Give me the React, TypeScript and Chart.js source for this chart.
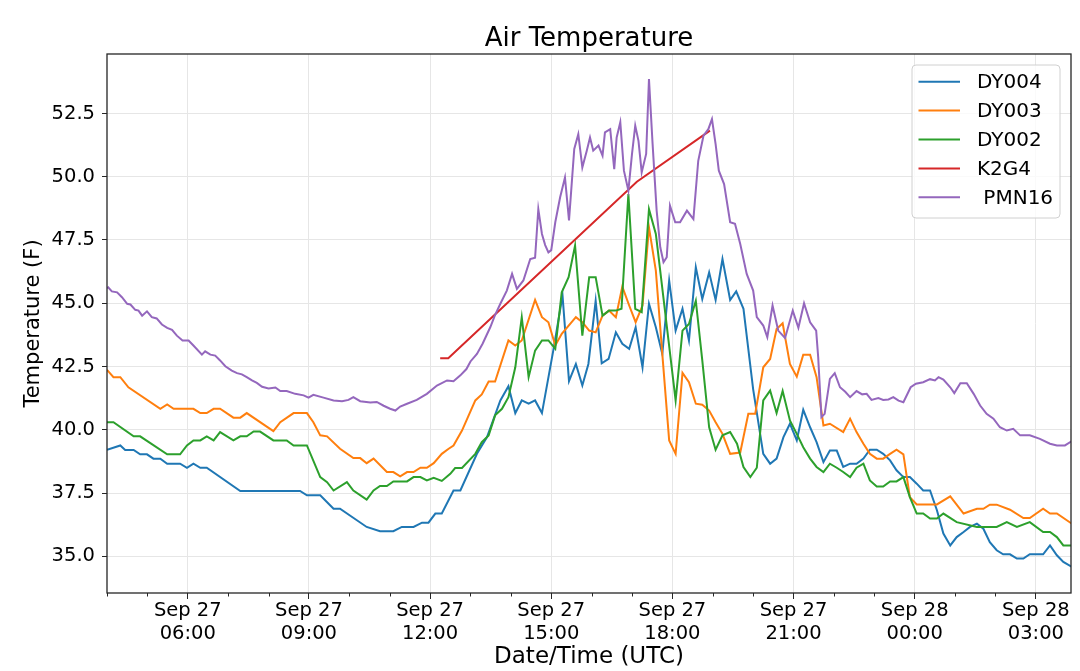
import { useEffect, useRef } from "react";
import { Chart, registerables } from "chart.js";

Chart.register(...registerables);

const FONT = "'DejaVu Sans', 'Liberation Sans', sans-serif";

const chartTitle = "Air Temperature";
const xAxisTitle = "Date/Time (UTC)";
const yAxisTitle = "Temperature (F)";

const seriesLabels = ["DY004", "DY003", "DY002", "K2G4", " PMN16"];
const seriesColors = ["#1f77b4", "#ff7f0e", "#2ca02c", "#d62728", "#9467bd"];

// hours since Sep 27 00:00 UTC
const dy004Hours = [4.0, 4.33, 4.45, 4.66, 4.82, 4.99, 5.15, 5.32, 5.49, 5.81, 5.98, 6.14, 6.31, 6.47, 7.3, 8.78, 8.95, 9.28, 9.53, 9.61, 9.77, 10.43, 10.76, 11.09, 11.3, 11.59, 11.8, 11.96, 12.13, 12.29, 12.58, 12.75, 13.16, 13.41, 13.74, 13.94, 14.11, 14.27, 14.44, 14.6, 14.77, 15.05, 15.28, 15.44, 15.61, 15.77, 15.92, 16.1, 16.25, 16.42, 16.6, 16.76, 16.93, 17.09, 17.26, 17.42, 17.59, 17.75, 17.92, 18.08, 18.25, 18.41, 18.58, 18.74, 18.91, 19.07, 19.24, 19.43, 19.58, 19.76, 20.0, 20.25, 20.42, 20.58, 20.75, 20.91, 21.08, 21.24, 21.41, 21.57, 21.74, 21.9, 22.07, 22.23, 22.4, 22.56, 22.73, 22.89, 23.06, 23.22, 23.39, 23.55, 23.72, 23.88, 24.05, 24.21, 24.38, 24.55, 24.71, 24.88, 25.04, 25.21, 25.37, 25.54, 25.7, 25.86, 26.03, 26.19, 26.36, 26.53, 26.69, 26.85, 27.18, 27.35, 27.52, 27.68, 27.89];
const dy004Temp = [39.21, 39.38, 39.2, 39.2, 39.03, 39.03, 38.86, 38.86, 38.66, 38.66, 38.5, 38.66, 38.5, 38.5, 37.58, 37.58, 37.41, 37.41, 37.01, 36.88, 36.88, 36.16, 35.99, 35.99, 36.16, 36.16, 36.33, 36.33, 36.69, 36.69, 37.6, 37.6, 39.05, 39.71, 41.16, 41.72, 40.66, 41.16, 41.03, 41.16, 40.66, 43.13, 45.3, 41.92, 42.6, 41.75, 42.6, 45.1, 42.63, 42.8, 43.85, 43.4, 43.2, 44.05, 42.47, 44.98, 44.05, 43.0, 45.9, 43.92, 44.78, 43.53, 46.42, 45.17, 46.22, 45.13, 46.75, 45.13, 45.47, 44.78, 41.6, 39.05, 38.66, 38.86, 39.71, 40.24, 39.58, 40.79, 40.1, 39.51, 38.72, 39.18, 39.18, 38.53, 38.66, 38.66, 38.86, 39.21, 39.21, 39.05, 38.79, 38.4, 38.13, 38.13, 37.87, 37.6, 37.6, 36.82, 35.9, 35.43, 35.76, 35.96, 36.16, 36.29, 36.09, 35.56, 35.24, 35.08, 35.08, 34.91, 34.91, 35.08, 35.08, 35.43, 35.04, 34.78, 34.58];

const dy003Hours = [4.0, 4.16, 4.33, 4.53, 5.32, 5.49, 5.65, 6.14, 6.31, 6.47, 6.64, 6.8, 7.13, 7.3, 7.46, 8.12, 8.29, 8.62, 8.95, 9.11, 9.28, 9.45, 9.77, 10.1, 10.27, 10.43, 10.6, 10.93, 11.09, 11.26, 11.43, 11.59, 11.76, 11.92, 12.09, 12.29, 12.46, 12.58, 12.79, 13.12, 13.28, 13.45, 13.61, 13.94, 14.11, 14.27, 14.6, 14.77, 14.93, 15.1, 15.26, 15.61, 15.77, 15.94, 16.1, 16.27, 16.43, 16.6, 16.76, 16.93, 17.09, 17.26, 17.42, 17.59, 17.75, 17.92, 18.08, 18.25, 18.41, 18.58, 18.74, 18.91, 19.07, 19.24, 19.43, 19.68, 19.88, 20.05, 20.25, 20.42, 20.58, 20.73, 20.91, 21.08, 21.24, 21.41, 21.57, 21.74, 21.9, 22.23, 22.4, 22.56, 22.73, 22.89, 23.06, 23.22, 23.39, 23.55, 23.72, 23.88, 24.05, 24.55, 24.88, 25.21, 25.54, 25.7, 25.86, 26.03, 26.36, 26.69, 26.85, 27.18, 27.35, 27.52, 27.89];
const dy003Temp = [42.37, 42.08, 42.08, 41.68, 40.83, 41.0, 40.83, 40.83, 40.66, 40.66, 40.83, 40.83, 40.48, 40.48, 40.66, 39.95, 40.3, 40.66, 40.66, 40.3, 39.78, 39.74, 39.25, 38.88, 38.88, 38.68, 38.86, 38.33, 38.33, 38.16, 38.33, 38.33, 38.5, 38.5, 38.68, 39.05, 39.25, 39.38, 39.97, 41.16, 41.4, 41.91, 41.91, 43.53, 43.33, 43.53, 45.13, 44.45, 44.25, 43.33, 43.79, 44.45, 44.25, 43.92, 43.85, 44.51, 44.71, 44.45, 45.66, 44.91, 44.25, 44.91, 48.0, 46.29, 43.0, 39.58, 39.05, 42.25, 41.88, 41.03, 40.99, 40.76, 40.3, 39.84, 39.05, 39.1, 40.63, 40.63, 42.47, 42.8, 43.98, 44.21, 42.6, 42.1, 42.97, 42.97, 42.08, 40.17, 40.24, 39.91, 40.44, 39.91, 39.45, 39.05, 38.86, 38.86, 39.05, 39.21, 39.03, 37.34, 37.05, 37.05, 37.37, 36.69, 36.88, 36.88, 37.04, 37.04, 36.84, 36.51, 36.51, 36.88, 36.69, 36.69, 36.29];

const dy002Hours = [4.0, 4.16, 4.66, 4.82, 5.49, 5.81, 5.98, 6.14, 6.31, 6.47, 6.64, 6.8, 7.13, 7.3, 7.46, 7.63, 7.79, 8.12, 8.45, 8.62, 8.95, 9.28, 9.45, 9.61, 9.94, 10.1, 10.43, 10.6, 10.76, 10.93, 11.09, 11.43, 11.59, 11.76, 11.92, 12.09, 12.29, 12.5, 12.62, 12.79, 13.12, 13.28, 13.45, 13.61, 13.78, 13.94, 14.11, 14.27, 14.44, 14.6, 14.77, 14.93, 15.1, 15.26, 15.43, 15.59, 15.77, 15.94, 16.1, 16.27, 16.43, 16.6, 16.74, 16.91, 17.08, 17.24, 17.42, 17.59, 18.08, 18.25, 18.41, 18.58, 18.74, 18.91, 19.07, 19.24, 19.43, 19.6, 19.76, 19.93, 20.09, 20.25, 20.42, 20.58, 20.73, 20.91, 21.08, 21.24, 21.41, 21.57, 21.74, 21.9, 22.07, 22.23, 22.4, 22.56, 22.73, 22.89, 23.06, 23.22, 23.39, 23.55, 23.72, 23.88, 24.05, 24.21, 24.38, 24.55, 24.71, 25.04, 25.54, 26.03, 26.28, 26.53, 26.85, 27.18, 27.35, 27.52, 27.68, 27.89];
const dy002Temp = [40.3, 40.3, 39.74, 39.74, 39.03, 39.03, 39.38, 39.58, 39.58, 39.74, 39.58, 39.91, 39.58, 39.74, 39.74, 39.93, 39.93, 39.58, 39.58, 39.38, 39.38, 38.13, 37.93, 37.6, 37.93, 37.6, 37.24, 37.6, 37.78, 37.78, 37.96, 37.96, 38.13, 38.13, 38.0, 38.1, 37.98, 38.26, 38.49, 38.49, 39.05, 39.51, 39.78, 40.57, 40.83, 41.29, 42.47, 44.45, 42.08, 43.13, 43.53, 43.53, 43.2, 45.43, 46.03, 47.28, 43.72, 46.03, 46.03, 44.51, 44.71, 44.71, 44.78, 49.32, 44.78, 44.65, 48.72, 47.74, 41.16, 43.92, 44.18, 45.1, 42.74, 40.1, 39.21, 39.78, 39.91, 39.45, 38.53, 38.13, 38.5, 41.16, 41.55, 40.66, 41.53, 40.37, 39.84, 39.31, 38.86, 38.53, 38.33, 38.66, 38.5, 38.33, 38.13, 38.5, 38.66, 38.0, 37.76, 37.76, 37.96, 37.96, 38.13, 37.34, 36.69, 36.69, 36.49, 36.49, 36.69, 36.35, 36.16, 36.16, 36.35, 36.16, 36.35, 35.96, 35.96, 35.76, 35.43, 35.43];

const k2g4Hours = [12.25, 12.45, 17.12, 18.93];
const k2g4Temp = [42.83, 42.83, 49.8, 51.82];

const pmn16Hours = [4.0, 4.03, 4.12, 4.25, 4.37, 4.5, 4.58, 4.7, 4.78, 4.87, 4.99, 5.11, 5.23, 5.36, 5.49, 5.61, 5.73, 5.87, 6.02, 6.14, 6.35, 6.43, 6.56, 6.68, 6.8, 6.93, 7.09, 7.22, 7.34, 7.46, 7.59, 7.71, 7.84, 8.0, 8.17, 8.29, 8.45, 8.66, 8.87, 8.99, 9.11, 9.36, 9.61, 9.82, 9.98, 10.1, 10.27, 10.52, 10.68, 10.85, 11.01, 11.14, 11.26, 11.43, 11.67, 11.92, 12.17, 12.42, 12.58, 12.75, 12.9, 13.0, 13.16, 13.3, 13.49, 13.6, 13.74, 13.9, 14.03, 14.15, 14.31, 14.48, 14.6, 14.68, 14.77, 14.85, 14.93, 15.0, 15.1, 15.22, 15.34, 15.44, 15.57, 15.67, 15.77, 15.88, 15.96, 16.04, 16.17, 16.27, 16.33, 16.46, 16.56, 16.62, 16.71, 16.8, 16.91, 17.0, 17.08, 17.16, 17.24, 17.35, 17.42, 17.51, 17.61, 17.7, 17.78, 17.86, 17.94, 18.07, 18.19, 18.36, 18.52, 18.64, 18.77, 18.89, 18.98, 19.07, 19.15, 19.28, 19.43, 19.55, 19.68, 19.84, 20.0, 20.09, 20.25, 20.35, 20.48, 20.62, 20.79, 20.98, 21.12, 21.26, 21.41, 21.56, 21.61, 21.69, 21.77, 21.9, 22.02, 22.15, 22.28, 22.4, 22.56, 22.7, 22.81, 22.93, 23.1, 23.22, 23.35, 23.47, 23.6, 23.72, 23.9, 24.03, 24.21, 24.38, 24.5, 24.59, 24.71, 24.88, 24.98, 25.13, 25.29, 25.46, 25.62, 25.78, 25.95, 26.11, 26.28, 26.44, 26.61, 26.85, 27.1, 27.35, 27.52, 27.72, 27.89];
const pmn16Temp = [45.6, 45.63, 45.47, 45.43, 45.24, 44.98, 44.95, 44.74, 44.71, 44.51, 44.68, 44.45, 44.4, 44.16, 44.03, 43.95, 43.72, 43.53, 43.53, 43.33, 42.97, 43.1, 42.97, 42.93, 42.74, 42.51, 42.34, 42.24, 42.19, 42.08, 41.95, 41.85, 41.7, 41.63, 41.67, 41.53, 41.53, 41.42, 41.36, 41.27, 41.38, 41.27, 41.16, 41.13, 41.18, 41.29, 41.13, 41.08, 41.1, 40.95, 40.83, 40.76, 40.92, 41.03, 41.18, 41.42, 41.75, 41.95, 41.92, 42.15, 42.4, 42.7, 43.0, 43.4, 44.05, 44.5, 44.98, 45.5, 46.16, 45.57, 45.9, 46.75, 46.8, 48.72, 47.74, 47.3, 47.01, 47.1, 48.2, 49.19, 49.97, 48.27, 51.1, 51.68, 50.37, 51.03, 51.55, 51.03, 51.23, 50.83, 51.75, 51.88, 50.3, 51.55, 52.15, 50.24, 49.45, 50.9, 52.02, 51.42, 50.17, 50.9, 53.86, 51.29, 48.66, 47.21, 46.62, 46.82, 48.86, 48.2, 48.2, 48.66, 48.33, 50.63, 51.62, 51.88, 52.28, 51.29, 50.24, 49.71, 48.2, 48.14, 47.34, 46.16, 45.5, 44.45, 44.12, 43.66, 44.91, 43.92, 43.63, 44.71, 44.03, 45.0, 44.25, 43.92, 42.87, 40.5, 40.63, 42.01, 42.24, 41.68, 41.5, 41.29, 41.53, 41.4, 41.42, 41.18, 41.25, 41.18, 41.2, 41.29, 41.15, 41.09, 41.68, 41.82, 41.88, 42.0, 41.95, 42.08, 41.98, 41.68, 41.45, 41.84, 41.84, 41.42, 40.96, 40.63, 40.44, 40.1, 39.97, 40.04, 39.78, 39.78, 39.64, 39.45, 39.38, 39.38, 39.55];

const yTickValues = [35, 37.5, 40, 42.5, 45, 47.5, 50, 52.5];
const xTickHours = [4, 5, 6, 7, 8, 9, 10, 11, 12, 13, 14, 15, 16, 17, 18, 19, 20, 21, 22, 23, 24, 25, 26, 27];
const xMajorEvery = 3;

const X_MIN = 4.0;
const X_MAX = 27.87;
const Y_MIN = 33.55;
const Y_MAX = 54.85;

function xTickLabel(h: number): string[] {
  const day = h < 24 ? "Sep 27" : "Sep 28";
  const hh = String(h % 24).padStart(2, "0");
  return [day, hh + ":00"];
}

function toPoints(xs: number[], ys: number[]) {
  return xs.map((x, i) => ({ x, y: ys[i] }));
}

const decorPlugin = {
  id: "decor",
  afterDraw(chart: any) {
    const { ctx, chartArea: a, scales } = chart;
    const xs = scales.x;
    ctx.save();
    // minor ticks
    ctx.strokeStyle = "#262626";
    ctx.lineWidth = 1;
    for (const h of xTickHours) {
      if (h % xMajorEvery === 0) continue;
      const px = Math.round(xs.getPixelForValue(h)) + 0.5;
      ctx.beginPath();
      ctx.moveTo(px, a.bottom);
      ctx.lineTo(px, a.bottom + 3.5);
      ctx.stroke();
    }
    // frame
    ctx.strokeStyle = "#262626";
    ctx.lineWidth = 1.3;
    ctx.strokeRect(a.left, a.top, a.right - a.left, a.bottom - a.top);
    // title
    ctx.fillStyle = "#000";
    ctx.font = `26px ${FONT}`;
    ctx.textAlign = "center";
    ctx.textBaseline = "alphabetic";
    ctx.fillText(chartTitle, (a.left + a.right) / 2, a.top - 8);
    // legend
    const bw = 148;
    const bh = 153;
    const bx = a.right - 11 - bw;
    const by = a.top + 11;
    const r = 4;
    ctx.beginPath();
    ctx.moveTo(bx + r, by);
    ctx.lineTo(bx + bw - r, by);
    ctx.quadraticCurveTo(bx + bw, by, bx + bw, by + r);
    ctx.lineTo(bx + bw, by + bh - r);
    ctx.quadraticCurveTo(bx + bw, by + bh, bx + bw - r, by + bh);
    ctx.lineTo(bx + r, by + bh);
    ctx.quadraticCurveTo(bx, by + bh, bx, by + bh - r);
    ctx.lineTo(bx, by + r);
    ctx.quadraticCurveTo(bx, by, bx + r, by);
    ctx.closePath();
    ctx.fillStyle = "rgba(255,255,255,0.8)";
    ctx.fill();
    ctx.strokeStyle = "#d0d0d0";
    ctx.lineWidth = 1;
    ctx.stroke();
    ctx.font = `20px ${FONT}`;
    ctx.textAlign = "left";
    ctx.textBaseline = "middle";
    chart.data.datasets.forEach((ds: any, i: number) => {
      const cy = by + 16.7 + i * 28.9;
      ctx.strokeStyle = ds.borderColor;
      ctx.lineWidth = 2;
      ctx.beginPath();
      ctx.moveTo(bx + 6.5, cy);
      ctx.lineTo(bx + 48, cy);
      ctx.stroke();
      ctx.fillStyle = "#000";
      ctx.fillText(ds.label, bx + 65, cy + 1);
    });
    ctx.restore();
  },
};

export default function App() {
  const canvasRef = useRef<HTMLCanvasElement | null>(null);

  useEffect(() => {
    const canvas = canvasRef.current;
    if (!canvas) return;
    const seriesData = [
      toPoints(dy004Hours, dy004Temp),
      toPoints(dy003Hours, dy003Temp),
      toPoints(dy002Hours, dy002Temp),
      toPoints(k2g4Hours, k2g4Temp),
      toPoints(pmn16Hours, pmn16Temp),
    ];
    const chart = new Chart(canvas, {
      type: "line",
      data: {
        datasets: seriesData.map((d, i) => ({
          label: seriesLabels[i],
          data: d,
          borderColor: seriesColors[i],
          backgroundColor: seriesColors[i],
          borderWidth: 2,
          pointRadius: 0,
          tension: 0,
          fill: false,
          order: seriesData.length - i,
        })),
      },
      options: {
        animation: false,
        responsive: true,
        maintainAspectRatio: false,
        layout: { padding: { top: 54, right: 9, bottom: 0, left: 0 } },
        font: { family: FONT },
        plugins: {
          legend: { display: false },
          title: { display: false },
          tooltip: { enabled: false },
        },
        scales: {
          x: {
            type: "linear",
            min: X_MIN,
            max: X_MAX,
            afterBuildTicks: (s: any) => {
              s.ticks = xTickHours.map((v) => ({ value: v }));
            },
            afterFit: (s: any) => {
              s.height = 78;
            },
            ticks: {
              autoSkip: false,
              maxRotation: 0,
              minRotation: 0,
              padding: 0,
              color: "#000",
              font: { family: FONT, size: 19.5 },
              callback: (v: any) => (Number(v) % xMajorEvery === 0 ? xTickLabel(Number(v)) : ""),
            },
            grid: {
              color: (c: any) => (c.tick && c.tick.value % xMajorEvery === 0 ? "#e6e6e6" : "rgba(0,0,0,0)"),
              tickColor: (c: any) => (c.tick && c.tick.value % xMajorEvery === 0 ? "#262626" : "rgba(0,0,0,0)"),
              tickLength: 6,
              lineWidth: 1,
            },
            border: { display: false },
            title: {
              display: true,
              text: xAxisTitle,
              color: "#000",
              font: { family: FONT, size: 23 },
              padding: { top: 0, bottom: 0 },
            },
          },
          y: {
            type: "linear",
            min: Y_MIN,
            max: Y_MAX,
            afterBuildTicks: (s: any) => {
              s.ticks = yTickValues.map((v) => ({ value: v }));
            },
            afterFit: (s: any) => {
              s.width = 107;
            },
            ticks: {
              padding: 7,
              color: "#000",
              font: { family: FONT, size: 19.5 },
              callback: (v: any) => Number(v).toFixed(1),
            },
            grid: {
              color: "#e6e6e6",
              tickColor: "#262626",
              tickLength: 5,
              lineWidth: 1,
            },
            border: { display: false },
            title: {
              display: true,
              text: yAxisTitle,
              color: "#000",
              font: { family: FONT, size: 21 },
              padding: { top: 21, bottom: 0 },
            },
          },
        },
      },
      plugins: [decorPlugin],
    });
    return () => chart.destroy();
  }, []);

  return (
    <div style={{ position: "fixed", left: 0, top: 0, width: 1080, height: 671, background: "#fff" }}>
      <canvas ref={canvasRef} />
    </div>
  );
}
